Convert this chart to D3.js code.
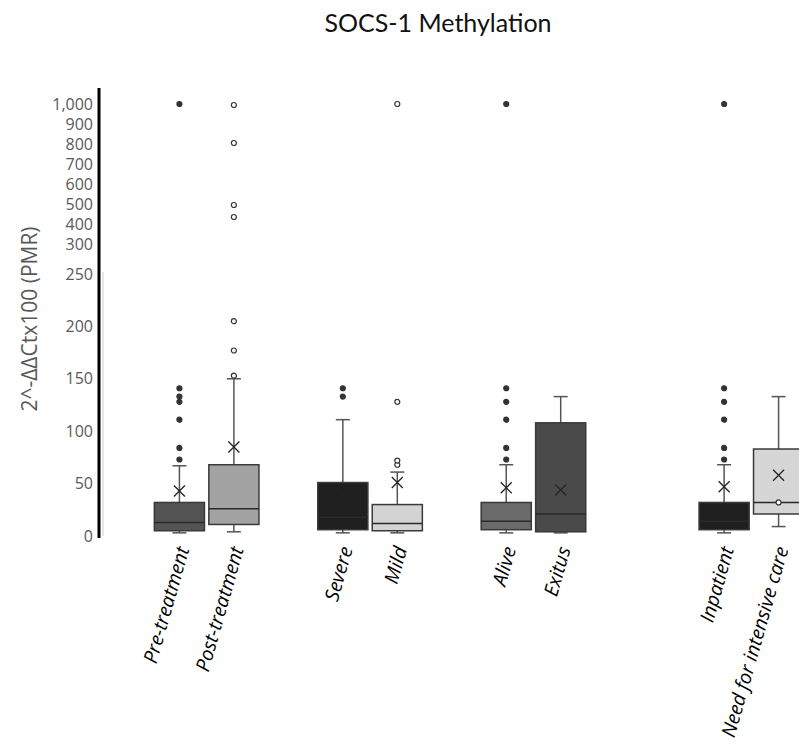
<!DOCTYPE html>
<html>
<head>
<meta charset="utf-8">
<script src="https://cdn.jsdelivr.net/npm/d3@7"></script>
<style>
  body { margin: 0; background: #fff; }
</style>
</head>
<body>
<div id="chart-area"></div>
<script>
// groups, in drawing order (empty slots leave the gaps between the pairs)
const slots = ["Pre-treatment", "Post-treatment", "_a", "Severe", "Mild", "_b",
  "Alive", "Exitus", "_c", "_d", "Inpatient", "Need for intensive care"]
const categories = ["Pre-treatment", "Post-treatment", "Severe", "Mild",
  "Alive", "Exitus", "Inpatient", "Need for intensive care"]

const lowWhisker = [3, 4, 3, 3, 3, 3, 3, 9]
const q1 = [5, 11, 6, 5, 6, 4, 6, 21]
const medians = [13, 26, 18, 12, 14, 21, 14, 32]
const q3 = [32, 68, 51, 30, 32, 108, 32, 83]
const highWhisker = [67, 150, 111, 61, 68, 133, 68, 133]
const means = [43, 85, 40, 51, 46, 44, 47, 58]
const outliers = [
  [73, 84, 111, 128, 133, 141, 1000],
  [153, 177, 205, 435, 495, 805, 995],
  [133, 141],
  [68, 72, 128, 1000],
  [73, 84, 111, 128, 141, 1000],
  [],
  [73, 84, 111, 128, 141, 1000],
  [32]
]
const boxColors = ["#545454", "#a3a3a3", "#1f1f1f", "#d3d3d3", "#6b6b6b", "#4a4a4a", "#1f1f1f", "#d6d6d6"]
const openDots = [false, true, false, true, false, false, false, true]

const yTicks = [0, 50, 100, 150, 200, 250, 300, 400, 500, 600, 700, 800, 900, 1000]

const WIDTH = 799
const HEIGHT = 746

const svg = d3.select("#chart-area").append("svg")
  .attr("width", WIDTH)
  .attr("height", HEIGHT)

// broken axis: 0-250 linear, then 300-1000 squeezed
const y = d3.scaleLinear()
  .domain([0, 250, 300, 1000])
  .range([536, 274, 244, 104])

const x = d3.scaleBand()
  .domain(slots)
  .range([150, 808])
  .paddingInner(0.08)
  .paddingOuter(0.08)

// title
svg.append("text")
  .attr("x", 438)
  .attr("y", 32)
  .attr("text-anchor", "middle")
  .attr("font-family", "Lato, 'Open Sans', sans-serif")
  .attr("font-size", "25px")
  .attr("fill", "#111")
  .text("SOCS-1 Methylation")

// Y label
svg.append("text")
  .attr("transform", "translate(37, 319) rotate(-90)")
  .attr("text-anchor", "middle")
  .attr("font-family", "'Open Sans', sans-serif")
  .attr("font-size", "21px")
  .attr("fill", "#595959")
  .text("2^-ΔΔCtx100 (PMR)")

// Y axis
const yAxisCall = d3.axisLeft(y)
  .tickValues(yTicks)
  .tickSize(0)
  .tickPadding(6)
  .tickFormat(d3.format(","))

const yAxisGroup = svg.append("g")
  .attr("transform", "translate(99, 0)")
  .call(yAxisCall)
yAxisGroup.select(".domain").remove()
yAxisGroup.selectAll("text")
  .attr("font-family", "'Open Sans', sans-serif")
  .attr("font-size", "16px")
  .attr("fill", "#595959")

svg.append("line")
  .attr("x1", 103).attr("x2", 103)
  .attr("y1", 272).attr("y2", y(0))
  .attr("stroke", "#d0d0d0")
  .attr("stroke-width", 1)
svg.append("line")
  .attr("x1", 99).attr("x2", 99)
  .attr("y1", 88).attr("y2", y(0) + 2)
  .attr("stroke", "#000")
  .attr("stroke-width", 3)

const data = categories.map((c, i) => ({
  cat: c, lo: lowWhisker[i], q1: q1[i], med: medians[i], q3: q3[i],
  hi: highWhisker[i], mean: means[i], out: outliers[i],
  color: boxColors[i], open: openDots[i]
}))

const bw = x.bandwidth()
const cap = 14

const groups = svg.selectAll("g.box")
  .data(data)
  .enter().append("g")
  .attr("class", "box")
  .attr("transform", d => `translate(${x(d.cat) + bw / 2}, 0)`)

// whiskers
groups.append("line")
  .attr("x1", 0).attr("x2", 0)
  .attr("y1", d => y(d.hi)).attr("y2", d => y(d.q3))
  .attr("stroke", "#555").attr("stroke-width", 1.5)
groups.append("line")
  .attr("x1", 0).attr("x2", 0)
  .attr("y1", d => y(d.q1)).attr("y2", d => y(d.lo))
  .attr("stroke", "#555").attr("stroke-width", 1.5)
groups.append("line")
  .attr("x1", -cap / 2).attr("x2", cap / 2)
  .attr("y1", d => y(d.hi)).attr("y2", d => y(d.hi))
  .attr("stroke", "#555").attr("stroke-width", 1.5)
groups.append("line")
  .attr("x1", -cap / 2).attr("x2", cap / 2)
  .attr("y1", d => y(d.lo)).attr("y2", d => y(d.lo))
  .attr("stroke", "#555").attr("stroke-width", 1.5)

// boxes
groups.append("rect")
  .attr("x", -bw / 2)
  .attr("width", bw)
  .attr("y", d => y(d.q3))
  .attr("height", d => y(d.q1) - y(d.q3))
  .attr("fill", d => d.color)
  .attr("stroke", "#3a3a3a")
  .attr("stroke-width", 1.5)

// medians
groups.append("line")
  .attr("x1", -bw / 2).attr("x2", bw / 2)
  .attr("y1", d => y(d.med)).attr("y2", d => y(d.med))
  .attr("stroke", "#2a2a2a").attr("stroke-width", 1.5)

// mean markers
const m = 5.5
groups.append("path")
  .attr("d", d => `M${-m},${y(d.mean) - m}L${m},${y(d.mean) + m}M${m},${y(d.mean) - m}L${-m},${y(d.mean) + m}`)
  .attr("stroke", "#222")
  .attr("stroke-width", 1.3)
  .attr("fill", "none")

// outliers
groups.each(function(d) {
  d3.select(this).selectAll("circle")
    .data(d.out)
    .enter().append("circle")
    .attr("cx", 0)
    .attr("cy", v => y(v))
    .attr("r", 2.5)
    .attr("fill", d.open ? "#fff" : "#333")
    .attr("stroke", "#333")
    .attr("stroke-width", 1.2)
})

// category labels
svg.selectAll("text.cat")
  .data(categories)
  .enter().append("text")
  .attr("class", "cat")
  .attr("transform", d => `translate(${x(d) + bw / 2 + 10}, 549) rotate(-74)`)
  .attr("text-anchor", "end")
  .attr("font-family", "'Open Sans', sans-serif")
  .attr("font-style", "italic")
  .attr("font-size", "19.5px")
  .attr("fill", "#000")
  .text(d => d)
</script>
</body>
</html>
